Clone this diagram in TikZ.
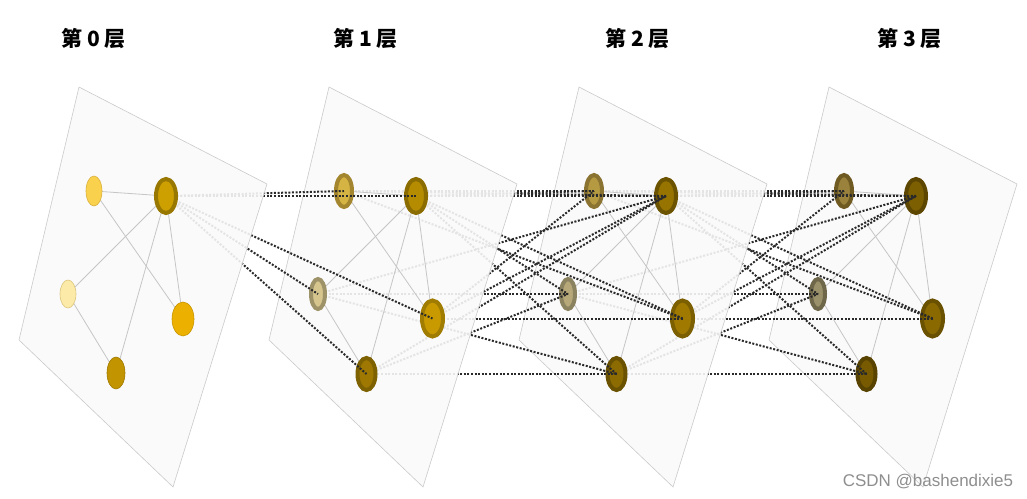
\documentclass[tikz,border=0pt]{standalone}
\usepackage{fontspec}
\usetikzlibrary{shapes.geometric}
\newfontfamily\cjkfont{Noto Sans CJK SC}
\newfontfamily\wmfont{Liberation Sans}
\definecolor{planefill}{HTML}{F9F9F9}
\definecolor{planeline}{HTML}{CACACA}
\definecolor{intraline}{HTML}{C6C6C6}
\definecolor{interline}{HTML}{2A2A2A}
% layer 0
\definecolor{a0f}{HTML}{FAD14C}\definecolor{a0d}{HTML}{D9B040}
\definecolor{b0o}{HTML}{987800}\definecolor{b0i}{HTML}{CDA000}
\definecolor{c0f}{HTML}{FCEAA8}\definecolor{c0d}{HTML}{DCC67E}
\definecolor{d0f}{HTML}{EBB000}\definecolor{d0d}{HTML}{C99600}
\definecolor{e0f}{HTML}{C19400}\definecolor{e0d}{HTML}{A07A00}
% layer 1
\definecolor{a1o}{HTML}{A3862E}\definecolor{a1i}{HTML}{D5B444}
\definecolor{b1o}{HTML}{8B6C00}\definecolor{b1i}{HTML}{B58C00}
\definecolor{c1o}{HTML}{9E9268}\definecolor{c1i}{HTML}{D6C68E}
\definecolor{d1o}{HTML}{A07C00}\definecolor{d1i}{HTML}{C99A00}
\definecolor{e1o}{HTML}{7E6100}\definecolor{e1i}{HTML}{9E7800}
% layer 2
\definecolor{a2o}{HTML}{8B7432}\definecolor{a2i}{HTML}{B69A42}
\definecolor{b2o}{HTML}{6C5300}\definecolor{b2i}{HTML}{977400}
\definecolor{c2o}{HTML}{8B8260}\definecolor{c2i}{HTML}{B6A878}
\definecolor{d2o}{HTML}{7B5F00}\definecolor{d2i}{HTML}{A07A00}
\definecolor{e2o}{HTML}{6B5200}\definecolor{e2i}{HTML}{8C6B00}
% layer 3
\definecolor{a3o}{HTML}{6F5B22}\definecolor{a3i}{HTML}{9A823C}
\definecolor{b3o}{HTML}{5C4600}\definecolor{b3i}{HTML}{7C5F00}
\definecolor{c3o}{HTML}{6F6749}\definecolor{c3i}{HTML}{9A9069}
\definecolor{d3o}{HTML}{6A5100}\definecolor{d3i}{HTML}{8A6A00}
\definecolor{e3o}{HTML}{594300}\definecolor{e3i}{HTML}{785B00}
\definecolor{wmgray}{HTML}{8E8E8E}

\pgfdeclarelayer{p3}\pgfdeclarelayer{n3}\pgfdeclarelayer{e23}
\pgfdeclarelayer{p2}\pgfdeclarelayer{n2}\pgfdeclarelayer{e12}
\pgfdeclarelayer{p1}\pgfdeclarelayer{n1}\pgfdeclarelayer{e01}
\pgfdeclarelayer{p0}\pgfdeclarelayer{n0}
\pgfsetlayers{p3,n3,e23,p2,n2,e12,p1,n1,e01,p0,n0,main}

\newcommand{\ringnode}[7]{\node[ringn, minimum width=#4pt, minimum height=#5pt, draw=#6, fill=#7] (#1) at (#2,#3) {};}
\newcommand{\plainnode}[7]{\node[plainn, minimum width=#4pt, minimum height=#5pt, draw=#6, fill=#7] (#1) at (#2,#3) {};}

\begin{document}
\begin{tikzpicture}[x=1pt,y=-1pt,
  plane/.style={draw=planeline, line width=0.6pt, fill=planefill, fill opacity=0.9},
  intra/.style={draw=intraline, line width=0.8pt},
  inter/.style={draw=interline, line width=2pt, dash pattern=on 2pt off 1.6pt},
  ringn/.style={ellipse, inner sep=0pt, outer sep=0pt, line width=4pt},
  plainn/.style={ellipse, inner sep=0pt, outer sep=0pt, line width=0.6pt},
  title/.style={font=\cjkfont\bfseries\fontsize{21}{25}\selectfont, inner sep=0pt}
]
\useasboundingbox (0,0) rectangle (1027,498);

% ---------- nodes ----------
\begin{pgfonlayer}{n0}
\plainnode{A0}{94}{191}{16}{30}{a0d}{a0f}
\ringnode{B0}{166}{196}{20}{34}{b0o}{b0i}
\plainnode{C0}{68}{294}{16}{28}{c0d}{c0f}
\plainnode{D0}{183}{319}{22}{34}{d0d}{d0f}
\plainnode{E0}{116}{373}{18}{32}{e0d}{e0f}
\end{pgfonlayer}
\begin{pgfonlayer}{n1}
\ringnode{A1}{344}{191}{16}{32}{a1o}{a1i}
\ringnode{B1}{416}{196}{20}{34}{b1o}{b1i}
\ringnode{C1}{318}{294}{14}{30}{c1o}{c1i}
\ringnode{D1}{432.5}{318.5}{21}{36}{d1o}{d1i}
\ringnode{E1}{366.5}{374}{18}{32}{e1o}{e1i}
\end{pgfonlayer}
\begin{pgfonlayer}{n2}
\ringnode{A2}{594}{191}{16}{32}{a2o}{a2i}
\ringnode{B2}{666}{196}{20}{34}{b2o}{b2i}
\ringnode{C2}{568}{294}{14}{30}{c2o}{c2i}
\ringnode{D2}{682.5}{318.5}{21}{36}{d2o}{d2i}
\ringnode{E2}{616.5}{374}{18}{32}{e2o}{e2i}
\end{pgfonlayer}
\begin{pgfonlayer}{n3}
\ringnode{A3}{844}{191}{16}{32}{a3o}{a3i}
\ringnode{B3}{916}{196}{20}{34}{b3o}{b3i}
\ringnode{C3}{818}{294}{14}{30}{c3o}{c3i}
\ringnode{D3}{932.5}{318.5}{21}{36}{d3o}{d3i}
\ringnode{E3}{866.5}{374}{18}{32}{e3o}{e3i}
\end{pgfonlayer}

% ---------- planes and in-layer edges ----------
\begin{pgfonlayer}{p0}
\path[plane] (79,87) -- (267,184) -- (173,487) -- (19,340) -- cycle;
\foreach \s/\t in {A/B,A/D,B/C,B/E,B/D,C/E} \draw[intra] (\s0.center) -- (\t0.center);
\end{pgfonlayer}
\begin{pgfonlayer}{p1}
\path[plane] (329,87) -- (517,184) -- (423,487) -- (269,340) -- cycle;
\foreach \s/\t in {A/B,A/D,B/C,B/E,B/D,C/E} \draw[intra] (\s1.center) -- (\t1.center);
\end{pgfonlayer}
\begin{pgfonlayer}{p2}
\path[plane] (579,87) -- (767,184) -- (673,487) -- (519,340) -- cycle;
\foreach \s/\t in {A/B,A/D,B/C,B/E,B/D,C/E} \draw[intra] (\s2.center) -- (\t2.center);
\end{pgfonlayer}
\begin{pgfonlayer}{p3}
\path[plane] (829,87) -- (1017,184) -- (923,487) -- (769,340) -- cycle;
\foreach \s/\t in {A/B,A/D,B/C,B/E,B/D,C/E} \draw[intra] (\s3.center) -- (\t3.center);
\end{pgfonlayer}

% ---------- connectors between layers ----------
\begin{pgfonlayer}{e01}
\foreach \t in {A,B,C,D,E} \draw[inter] (B0.center) -- (\t1.center);
\end{pgfonlayer}
\begin{pgfonlayer}{e12}
\foreach \s/\t in {A/A,B/A,D/A,B/B,A/B,C/B,D/B,E/B,C/C,B/C,E/C,D/D,A/D,B/D,E/E,B/E,C/E}
  \draw[inter] (\s1.center) -- (\t2.center);
\end{pgfonlayer}
\begin{pgfonlayer}{e23}
\foreach \s/\t in {A/A,B/A,D/A,B/B,A/B,C/B,D/B,E/B,C/C,B/C,E/C,D/D,A/D,B/D,E/E,B/E,C/E}
  \draw[inter] (\s2.center) -- (\t3.center);
\end{pgfonlayer}

% ---------- titles ----------
\node[title] (t0) at (93.5,39) {第 0 层};
\node[title] (t1) at (365.5,39) {第 1 层};
\node[title] (t2) at (637.5,39) {第 2 层};
\node[title] (t3) at (909.5,39) {第 3 层};

\node[font=\wmfont\fontsize{17}{20}\selectfont, text=wmgray, inner sep=0pt] (wm) at (928,482) {CSDN @bashendixie5};
\end{tikzpicture}
\end{document}
